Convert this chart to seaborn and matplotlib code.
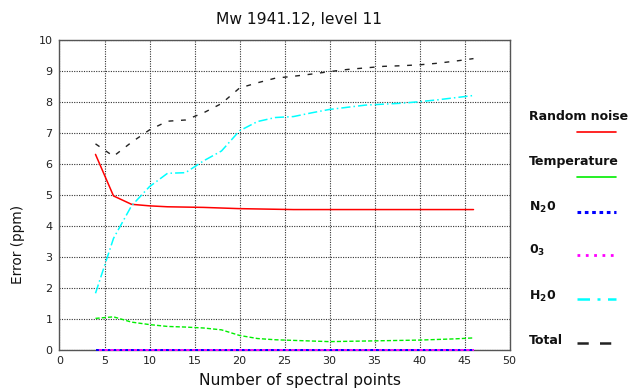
import matplotlib
matplotlib.use("Agg")
import matplotlib.pyplot as plt
from matplotlib.lines import Line2D
import numpy as np
import pandas as pd
import seaborn as sns

# Number of spectral points used in the retrieval
n_points = [4, 6, 8, 10, 12, 14, 16, 18, 20, 22, 24, 26, 28, 30, 32, 34, 36, 38, 40, 42, 44, 46]

# Error contributions (ppm)
random_noise = [6.31, 4.97, 4.70, 4.65, 4.62, 4.61, 4.60, 4.58, 4.56, 4.55, 4.54,
                4.53, 4.53, 4.53, 4.53, 4.53, 4.53, 4.53, 4.53, 4.53, 4.53, 4.53]
temperature = [1.02, 1.07, 0.90, 0.82, 0.76, 0.74, 0.71, 0.65, 0.47, 0.37, 0.33,
               0.31, 0.29, 0.27, 0.28, 0.29, 0.30, 0.31, 0.32, 0.34, 0.36, 0.39]
n2o = [0.005] * 22
o3 = [0.005] * 22
h2o = [1.83, 3.60, 4.65, 5.27, 5.70, 5.72, 6.10, 6.42, 7.07, 7.37, 7.50,
       7.53, 7.65, 7.76, 7.83, 7.90, 7.93, 7.96, 8.01, 8.07, 8.14, 8.21]
total = [6.65, 6.25, 6.70, 7.10, 7.38, 7.42, 7.65, 7.95, 8.45, 8.62, 8.77,
         8.83, 8.90, 8.98, 9.05, 9.10, 9.15, 9.17, 9.20, 9.25, 9.32, 9.40]

x_ticks = list(range(0, 51, 5))
y_ticks = list(range(0, 11))

sns.set_theme(style="white")
plt.rcParams["font.family"] = ["DejaVu Sans"]
plt.rcParams["mathtext.fontset"] = "dejavusans"

W, H = 636, 388
fig = plt.figure(figsize=(W / 100, H / 100), dpi=100)
fig.patch.set_facecolor("white")
ax = fig.add_axes([59.5 / W, 1 - 350 / H, 450 / W, 310 / H])
ax.set_facecolor("white")

series = [
    ("Random noise", random_noise, dict(color="#ff0000", linestyle="-", linewidth=1.1)),
    ("Temperature", temperature, dict(color="#00ee00", linestyle=(0, (3, 1.5)), linewidth=1.0)),
    ("N20", n2o, dict(color="#0000ff", linestyle=(0, (1.5, 1.5)), linewidth=1.4)),
    ("03", o3, dict(color="#ff00ff", linestyle=(1.5, (1.5, 1.5)), linewidth=1.4)),
    ("H20", h2o, dict(color="#00ffff", linestyle=(0, (6, 2, 1, 2)), linewidth=1.1)),
    ("Total", total, dict(color="#222222", linestyle=(0, (3.5, 5.5)), linewidth=1.0)),
]

for name, vals, style in series:
    df = pd.DataFrame({"points": n_points, "error": vals})
    sns.lineplot(data=df, x="points", y="error", ax=ax, legend=False,
                 clip_on=False, zorder=3, **style)

ax.set_xlim(0, 50)
ax.set_ylim(0, 10)
ax.set_xticks(x_ticks)
ax.set_yticks(y_ticks)
ax.tick_params(axis="both", length=0, labelsize=8, colors="#222222")
ax.tick_params(axis="x", pad=4)
ax.tick_params(axis="y", pad=5)
ax.set_xlabel("")
ax.set_ylabel("")
ax.grid(True, which="major", color="#333333", linestyle=(0, (1, 1.2)), linewidth=0.8)
ax.set_axisbelow(True)
for sp in ax.spines.values():
    sp.set_visible(True)
    sp.set_color("#555555")
    sp.set_linewidth(1.0)

fig.text(299 / W, 1 - 20 / H, "Mw 1941.12, level 11", ha="center", va="center",
         fontsize=11.2, color="#111111")
fig.text(300 / W, 1 - 380 / H, "Number of spectral points", ha="center", va="center",
         fontsize=11.2, color="#111111")
fig.text(18 / W, 1 - 244 / H, "Error (ppm)", ha="center", va="center",
         rotation=90, fontsize=9.8, color="#111111")

# Legend block at the right
legend_items = [
    ("Random noise", 116.7, 132.3),
    ("Temperature", 161.7, 176.7),
    (r"$\mathbf{N_{2}0}$", 207.3, 211.7),
    (r"$\mathbf{0_{3}}$", 250.0, 255.0),
    (r"$\mathbf{H_{2}0}$", 296.7, 299.3),
    ("Total", 340.0, 343.3),
]
legend_styles = [
    dict(color="#ff0000", linestyle="-", linewidth=1.2),
    dict(color="#00ee00", linestyle="-", linewidth=1.2),
    dict(color="#0000ff", linestyle=(0, (1.2, 1.2)), linewidth=2.2),
    dict(color="#ff00ff", linestyle=(0, (1.0, 2.0)), linewidth=2.0),
    dict(color="#00ffff", linestyle=(0, (5, 3, 1.2, 3)), linewidth=1.8),
    dict(color="#222222", linestyle=(0, (4.5, 4.5)), linewidth=1.8),
]
for (label, ty, ly), lstyle in zip(legend_items, legend_styles):
    fig.text(529 / W, 1 - ty / H, label, ha="left", va="center",
             fontsize=9, fontweight="bold", color="#111111")
    fig.add_artist(Line2D([577 / W, 616 / W], [1 - ly / H, 1 - ly / H],
                          transform=fig.transFigure, **lstyle))

fig.savefig("out.png", dpi=100, facecolor="white")
